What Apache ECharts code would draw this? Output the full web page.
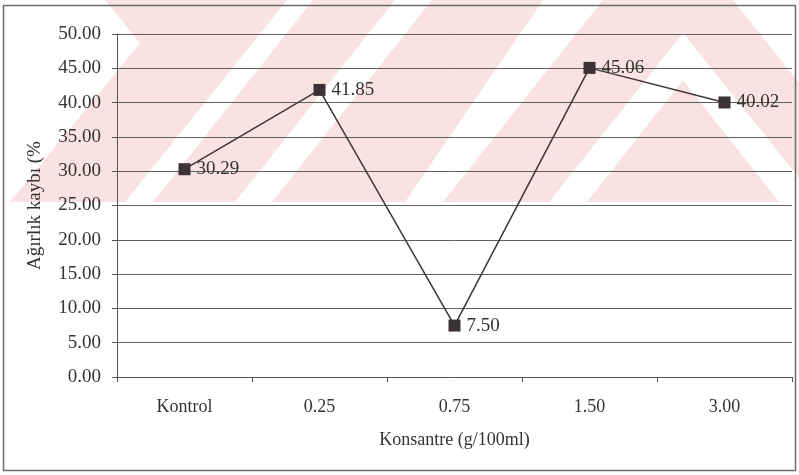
<!DOCTYPE html>
<html>
<head>
<meta charset="utf-8">
<style>
  html, body { margin: 0; padding: 0; background: #ffffff; }
  #chart { width: 799px; height: 475px; }
</style>
<script src="https://cdn.jsdelivr.net/npm/echarts@6/dist/echarts.min.js"></script>
</head>
<body>
<div id="chart"></div>
<script>
// Concentrations tested and measured weight loss (%)
const categories = ['Kontrol', '0.25', '0.75', '1.50', '3.00'];
const weightLoss = [30.29, 41.85, 7.50, 45.06, 40.02];
const yTicks = { min: 0, max: 50, step: 5 };

const xTitle = 'Konsantre (g/100ml)';
const yTitle = 'Ağırlık kaybı (%';

const FONT = '"Liberation Serif", "Times New Roman", serif';
const INK = '#333333';
const PINK = '#f9e2e3';

// Light decorative chevron pattern in the upper background
function poly(points, fill) {
  return { type: 'polygon', z: -10, silent: true, shape: { points }, style: { fill } };
}
const backdrop = [
  poly([[105, 0], [733, 0], [800, 84], [800, 202], [10, 202], [140, 43]], PINK),
  poly([[287, 0], [313, 0], [153, 202], [125, 202]], '#ffffff'),
  poly([[395, 0], [432, 0], [272, 202], [235, 202]], '#ffffff'),
  poly([[543, 0], [603, 0], [443, 202], [405, 202]], '#ffffff'),
  poly([[683, 33], [800, 179], [800, 202], [779, 202], [683, 80], [587, 202], [549, 202]], '#ffffff'),
  { type: 'rect', z: 100, silent: true,
    shape: { x: 3.5, y: 5.5, width: 792, height: 465 },
    style: { fill: 'none', stroke: '#6b6b6b', lineWidth: 1.5 } }
];

const chart = echarts.init(document.getElementById('chart'), null, { renderer: 'canvas' });
chart.setOption({
  animation: false,
  backgroundColor: '#ffffff',
  graphic: backdrop,
  grid: { left: 117, right: 7, top: 34, bottom: 98, containLabel: false },
  xAxis: {
    type: 'category',
    data: categories,
    boundaryGap: true,
    name: xTitle,
    nameLocation: 'middle',
    nameGap: 54,
    nameTextStyle: { fontFamily: FONT, fontSize: 18, color: INK },
    axisLine: { lineStyle: { color: '#555555', width: 1 } },
    axisTick: { show: true, inside: false, length: 5, lineStyle: { color: '#555555' } },
    axisLabel: { fontFamily: FONT, fontSize: 18, color: INK, margin: 21 },
    splitLine: { show: false }
  },
  yAxis: {
    type: 'value',
    min: yTicks.min,
    max: yTicks.max,
    interval: yTicks.step,
    name: yTitle,
    nameLocation: 'middle',
    nameRotate: 90,
    nameGap: 72,
    nameTextStyle: { fontFamily: FONT, fontSize: 19, color: INK },
    axisLine: { show: true, lineStyle: { color: '#555555', width: 1 } },
    axisTick: { show: true, inside: false, length: 5, lineStyle: { color: '#555555' } },
    axisLabel: {
      fontFamily: FONT, fontSize: 19, color: INK, margin: 16,
      formatter: v => v.toFixed(2)
    },
    splitLine: { show: true, lineStyle: { color: '#5e5e5e', width: 1 } }
  },
  series: [{
    type: 'line',
    data: weightLoss,
    symbol: 'rect',
    symbolSize: 12,
    lineStyle: { color: '#3d3438', width: 1.5 },
    itemStyle: { color: '#3a3236' },
    label: {
      show: true,
      position: 'right',
      distance: 6,
      fontFamily: FONT,
      fontSize: 19,
      color: INK,
      formatter: p => p.value.toFixed(2)
    }
  }]
});
</script>
</body>
</html>
